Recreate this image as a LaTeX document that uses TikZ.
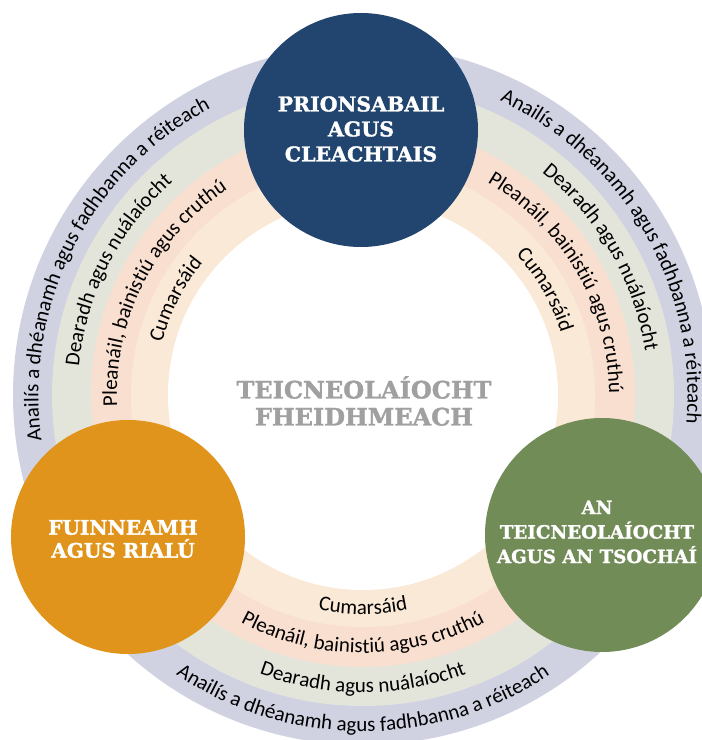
\documentclass[tikz,border=0pt]{standalone}
\usepackage{fontspec}
\usetikzlibrary{decorations.text}
\newfontfamily\ringfont{Carlito}
\newfontfamily\headfont{DejaVu Serif}[BoldFeatures={FakeBold=1.5}]
\newcommand\rf{\ringfont\fontsize{21}{24}\selectfont}
\definecolor{ringA}{HTML}{D0D2E2}
\definecolor{ringB}{HTML}{E3E5DB}
\definecolor{ringC}{HTML}{F9DFD0}
\definecolor{ringD}{HTML}{FAE9D6}
\definecolor{topicblue}{HTML}{22456F}
\definecolor{topicorange}{HTML}{E0941C}
\definecolor{topicgreen}{HTML}{718C57}
\definecolor{coregray}{HTML}{A0A0A0}
\begin{document}
\begin{tikzpicture}[x=1pt,y=1pt,
  ringtext/.style={decorate,decoration={text along path,text align=center,text={|\rf|#1}}},
  topic/.style={circle,minimum size=234pt,inner sep=0pt},
  topiclabel/.style={text=white,align=center,inner sep=0pt,
    font=\headfont\bfseries\fontsize{19.5}{25}\selectfont},
]
\useasboundingbox (0,0) rectangle (702,740);
\clip (0,0) rectangle (702,740);
\fill[white] (0,0) rectangle (702,740);
\coordinate (c) at (363,345);
% rings
\fill[ringA] (c) circle[radius=350];
\fill[ringB] (c) circle[radius=311];
\fill[ringC] (c) circle[radius=272];
\fill[ringD] (c) circle[radius=232];
\fill[white] (c) circle[radius=195];
% top-left texts
\path[ringtext={Anailís a dhéanamh agus fadhbanna a réiteach}] ([shift={(c)}]223:324.5) arc[start angle=223,end angle=83,radius=324.5];
\path[ringtext={Dearadh agus nuálaíocht}] ([shift={(c)}]223:285.5) arc[start angle=223,end angle=83,radius=285.5];
\path[ringtext={Pleanáil, bainistiú agus cruthú}] ([shift={(c)}]223:246) arc[start angle=223,end angle=83,radius=246];
\path[ringtext={Cumarsáid}] ([shift={(c)}]223:207.5) arc[start angle=223,end angle=83,radius=207.5];
% top-right texts
\path[ringtext={Anailís a dhéanamh agus fadhbanna a réiteach}] ([shift={(c)}]100:324.5) arc[start angle=100,end angle=-40,radius=324.5];
\path[ringtext={Dearadh agus nuálaíocht}] ([shift={(c)}]100:285.5) arc[start angle=100,end angle=-40,radius=285.5];
\path[ringtext={Pleanáil, bainistiú agus cruthú}] ([shift={(c)}]100:246) arc[start angle=100,end angle=-40,radius=246];
\path[ringtext={Cumarsáid}] ([shift={(c)}]100:207.5) arc[start angle=100,end angle=-40,radius=207.5];
% bottom texts
\path[ringtext={Anailís a dhéanamh agus fadhbanna a réiteach}] ([shift={(c)}]200:336.5) arc[start angle=200,end angle=340,radius=336.5];
\path[ringtext={Dearadh agus nuálaíocht}] ([shift={(c)}]200:297.5) arc[start angle=200,end angle=340,radius=297.5];
\path[ringtext={Pleanáil, bainistiú agus cruthú}] ([shift={(c)}]200:258) arc[start angle=200,end angle=340,radius=258];
\path[ringtext={Cumarsáid}] ([shift={(c)}]200:219.5) arc[start angle=200,end angle=340,radius=219.5];
% centre
\node[text=coregray,align=center,font=\headfont\bfseries\fontsize{24}{27}\selectfont] (core) at (364,339) {TEICNEOLAÍOCHT\\FHEIDHMEACH};
% topics
\node[topic,fill=topicblue] (prin) at (361,610) {};
\node[topic,fill=topicorange] (fuin) at (128,203) {};
\node[topic,fill=topicgreen] (teic) at (602,205) {};
\node[topiclabel,font=\headfont\bfseries\fontsize{20.5}{25}\selectfont] (prinlabel) at (361,611) {PRIONSABAIL\\AGUS\\CLEACHTAIS};
\node[topiclabel,font=\headfont\bfseries\fontsize{20}{23}\selectfont] (fuinlabel) at (123,201) {FUINNEAMH\\AGUS RIALÚ};
\node[topiclabel,font=\headfont\bfseries\fontsize{18.3}{24.5}\selectfont] (teiclabel) at (597,208) {AN\\TEICNEOLAÍOCHT\\AGUS AN TSOCHAÍ};
\end{tikzpicture}
\end{document}
